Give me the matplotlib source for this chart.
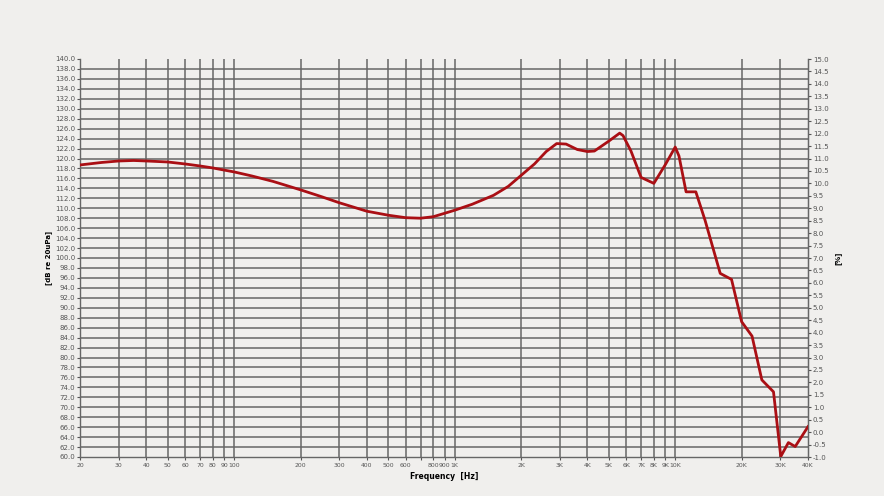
import matplotlib
matplotlib.use("Agg")
import matplotlib.pyplot as plt
import numpy as np

# frequency response
freq_hz = [20, 25, 30, 35, 40, 50, 60, 70, 80, 100, 120, 150, 200, 250, 300, 400, 500, 600,
           700, 800, 1000, 1200, 1500, 1750, 2000, 2300, 2600, 2900, 3200, 3600, 4000, 4300,
           5000, 5600, 5800, 6300, 7000, 8000, 9000, 10000, 10400, 11200, 12400, 13650,
           16000, 18000, 20000, 22300, 24700, 27900, 30100, 32600, 35000, 40000]
level_db = [118.7, 119.2, 119.5, 119.6, 119.5, 119.3, 118.9, 118.5, 118.1, 117.3, 116.5,
            115.4, 113.7, 112.3, 111.1, 109.4, 108.6, 108.1, 108.0, 108.3, 109.6, 110.8,
            112.6, 114.4, 116.6, 118.9, 121.4, 123.0, 122.9, 121.8, 121.4, 121.5, 123.5,
            125.1, 124.6, 121.5, 116.2, 115.0, 118.7, 122.3, 120.5, 113.3, 113.3, 107.6,
            96.9, 95.7, 87.2, 84.3, 75.5, 73.1, 60.1, 62.9, 62.1, 66.1]

x_ticks = [20, 30, 40, 50, 60, 70, 80, 90, 100, 200, 300, 400, 500, 600, 700, 800, 900,
           1000, 2000, 3000, 4000, 5000, 6000, 7000, 8000, 9000, 10000, 20000, 30000, 40000]
x_labels = ["20", "30", "40", "50", "60", "70", "80", "90", "100", "200", "300", "400",
            "500", "600", "", "800", "900", "1K", "2K", "3K", "4K", "5K", "6K", "7K", "8K",
            "9K", "10K", "20K", "30K", "40K"]

bg = "#f0efed"
grid_c = "#666666"
txt_c = "#555555"

fig = plt.figure(figsize=(8.84, 4.96), dpi=100, facecolor=bg)
ax = fig.add_axes([80/884, 1-457/496, 728/884, 398/496])
ax.set_facecolor(bg)

ax.set_xscale("log")
ax.set_xlim(20, 40000)
ax.set_ylim(60, 140)

ax.set_xticks(x_ticks)
ax.set_xticklabels(x_labels)
ax.minorticks_off()
ax.set_yticks(np.arange(60, 140.1, 2))
ax.set_yticklabels([f"{v:.1f}" for v in np.arange(60, 140.1, 2)])

for f in x_ticks[1:-1]:
    ax.axvline(f, color=grid_c, lw=1.1, zorder=1)
for v in np.arange(62, 139, 2):
    ax.axhline(v, color=grid_c, lw=1.1, zorder=1)

ax.plot(freq_hz, level_db, color="#aa0f14", lw=2.0, zorder=3, solid_joinstyle="round")

for s in ["left", "bottom", "right"]:
    ax.spines[s].set_color(grid_c)
    ax.spines[s].set_linewidth(1.0)
ax.spines["top"].set_visible(False)

ax.tick_params(axis="y", labelsize=5, colors=txt_c, length=2, width=0.8, pad=1.5)
ax.tick_params(axis="x", labelsize=4.4, colors=txt_c, length=2, width=0.8, pad=2)

ax.set_xlabel("Frequency  [Hz]", fontsize=5.5, fontweight="bold", labelpad=3)
ax.set_ylabel("[dB re 20uPa]", fontsize=5, fontweight="bold", labelpad=2)

ax2 = ax.twinx()
ax2.set_ylim(-1.0, 15.0)
ax2.set_yticks(np.arange(-1.0, 15.01, 0.5))
ax2.set_yticklabels([f"{v:.1f}" for v in np.arange(-1.0, 15.01, 0.5)])
ax2.tick_params(axis="y", labelsize=5, colors=txt_c, length=2, width=0.8, pad=1.5)
for s in ["left", "bottom", "top"]:
    ax2.spines[s].set_visible(False)
ax2.spines["right"].set_color(grid_c)
ax2.set_ylabel("[%]", fontsize=5, fontweight="bold", labelpad=4)

fig.savefig("out.png", dpi=100, facecolor=bg)
